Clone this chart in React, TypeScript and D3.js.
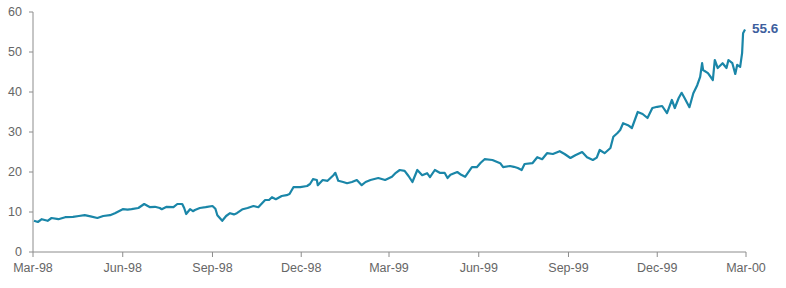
import React from "react";
import * as d3 from "d3";

const dates: string[] = [
  "1998-03-02","1998-03-06","1998-03-10","1998-03-16","1998-03-20","1998-03-27","1998-04-03","1998-04-11","1998-04-17","1998-04-23",
  "1998-04-29","1998-05-06","1998-05-12","1998-05-19","1998-05-24","1998-05-28","1998-06-01","1998-06-06","1998-06-10","1998-06-17",
  "1998-06-23","1998-06-29","1998-07-04","1998-07-09","1998-07-11","1998-07-16","1998-07-23","1998-07-27","1998-08-01","1998-08-03",
  "1998-08-05","1998-08-09","1998-08-12","1998-08-14","1998-08-19","1998-08-25","1998-09-01","1998-09-04","1998-09-06","1998-09-11",
  "1998-09-15","1998-09-19","1998-09-23","1998-09-26","1998-10-02","1998-10-07","1998-10-13","1998-10-18","1998-10-25","1998-10-29",
  "1998-11-01","1998-11-05","1998-11-11","1998-11-16","1998-11-19","1998-11-23","1998-11-30","1998-12-07","1998-12-10","1998-12-13",
  "1998-12-17","1998-12-18","1998-12-23","1998-12-28","1999-01-03","1999-01-05","1999-01-08","1999-01-13","1999-01-17","1999-01-22",
  "1999-01-27","1999-02-01","1999-02-05","1999-02-10","1999-02-18","1999-02-25","1999-03-04","1999-03-08","1999-03-12","1999-03-17",
  "1999-03-21","1999-03-25","1999-03-30","1999-04-04","1999-04-09","1999-04-12","1999-04-17","1999-04-22","1999-04-27","1999-04-30",
  "1999-05-03","1999-05-10","1999-05-14","1999-05-18","1999-05-25","1999-05-30","1999-06-03","1999-06-07","1999-06-15","1999-06-23",
  "1999-06-26","1999-07-03","1999-07-07","1999-07-11","1999-07-15","1999-07-18","1999-07-26","1999-07-31","1999-08-05","1999-08-10",
  "1999-08-16","1999-08-23","1999-08-28","1999-09-03","1999-09-08","1999-09-15","1999-09-20","1999-09-26","1999-09-30","1999-10-03",
  "1999-10-08","1999-10-14","1999-10-17","1999-10-21","1999-10-24","1999-10-27","1999-11-01","1999-11-05","1999-11-11","1999-11-16",
  "1999-11-21","1999-11-26","1999-12-01","1999-12-06","1999-12-11","1999-12-16","1999-12-19","1999-12-23","1999-12-26","1999-12-29",
  "2000-01-03","2000-01-07","2000-01-11","2000-01-14","2000-01-16","2000-01-17","2000-01-22","2000-01-27","2000-01-29","2000-02-01",
  "2000-02-06","2000-02-10","2000-02-12","2000-02-16","2000-02-19","2000-02-21","2000-02-24","2000-02-26","2000-02-27","2000-02-29"
];

const values: number[] = [
  7.8,7.5,8.2,7.8,8.5,8.2,8.7,8.8,9.0,9.2,
  8.9,8.5,9.0,9.2,9.7,10.2,10.7,10.6,10.7,11.0,
  12.0,11.2,11.3,11.0,10.7,11.3,11.2,12.0,12.0,11.0,
  9.5,10.7,10.2,10.5,11.0,11.2,11.5,10.8,9.2,7.8,
  9.0,9.7,9.4,9.7,10.7,11.0,11.5,11.2,13.0,13.0,
  13.7,13.2,14.0,14.2,14.5,16.2,16.2,16.5,17.0,18.2,
  18.0,16.7,18.0,17.8,19.2,19.8,17.8,17.5,17.2,17.5,
  18.0,16.7,17.5,18.0,18.5,18.0,18.8,19.8,20.5,20.3,
  19.0,17.5,20.5,19.2,19.7,18.7,20.5,19.8,19.8,18.5,
  19.3,20.0,19.3,18.8,21.2,21.2,22.3,23.2,23.0,22.2,
  21.2,21.5,21.3,21.0,20.5,22.0,22.2,23.7,23.2,24.7,
  24.5,25.2,24.5,23.5,24.2,25.0,23.7,23.0,23.6,25.5,
  24.7,26.0,28.8,29.7,30.5,32.2,31.7,31.0,35.0,34.5,
  33.5,36.0,36.3,36.5,34.7,38.0,36.0,38.5,39.8,38.5,
  36.2,39.7,41.7,43.8,47.2,45.5,44.7,43.0,48.0,46.0,
  47.2,46.0,48.0,47.2,44.5,46.8,46.3,49.7,54.7,55.6
];

const xTickDates: string[] = ["1998-03-01","1998-06-01","1998-09-01","1998-12-01","1999-03-01","1999-06-01","1999-09-01","1999-12-01","2000-03-01"];
const yTicks: number[] = [0, 10, 20, 30, 40, 50, 60];
const lastLabel = "55.6";

const W = 786, H = 288;
const left = 33, right = 746, top = 12, bottom = 252;

export default function App() {
  const parse = d3.timeParse("%Y-%m-%d");
  const data = dates.map((d, i) => ({ date: parse(d) as Date, value: values[i] }));
  const x = d3.scaleTime().domain([parse("1998-03-01") as Date, parse("2000-03-01") as Date]).range([left, right]);
  const y = d3.scaleLinear().domain([0, 60]).range([bottom, top]);
  const line = d3.line<{ date: Date; value: number }>().x(d => x(d.date)).y(d => y(d.value));
  const fmt = d3.timeFormat("%b-%y");
  const last = data[data.length - 1];
  const font = "'Liberation Sans', Arial, sans-serif";
  return (
    <div style={{ position: "absolute", left: 0, top: 0 }}>
      <svg width={W} height={H} style={{ display: "block", background: "#fff" }}>
        <line x1={left} x2={left} y1={top} y2={bottom} stroke="#8c8c8c" strokeWidth={1} />
        <line x1={left} x2={right} y1={bottom} y2={bottom} stroke="#8c8c8c" strokeWidth={1} />
        {yTicks.map(t => (
          <g key={t}>
            <line x1={left - 4} x2={left} y1={y(t)} y2={y(t)} stroke="#8c8c8c" />
            <text x={left - 11} y={y(t)} dy="0.35em" textAnchor="end" fontFamily={font} fontSize={12.5} fill="#666">{t}</text>
          </g>
        ))}
        {xTickDates.map(s => {
          const d = parse(s) as Date;
          return (
            <g key={s}>
              <line x1={x(d)} x2={x(d)} y1={bottom} y2={bottom + 5} stroke="#8c8c8c" />
              <text x={x(d)} y={bottom + 16} dy="0.35em" textAnchor="middle" fontFamily={font} fontSize={12.5} fill="#666">{fmt(d)}</text>
            </g>
          );
        })}
        <path d={line(data) || ""} fill="none" stroke="#1a86a8" strokeWidth={2.2} strokeLinejoin="round" />
        <text x={x(last.date) + 7} y={y(last.value) - 1} dy="0.35em" fontFamily={font} fontSize={13.5} fontWeight="bold" fill="#3d5e9e">{lastLabel}</text>
      </svg>
    </div>
  );
}
